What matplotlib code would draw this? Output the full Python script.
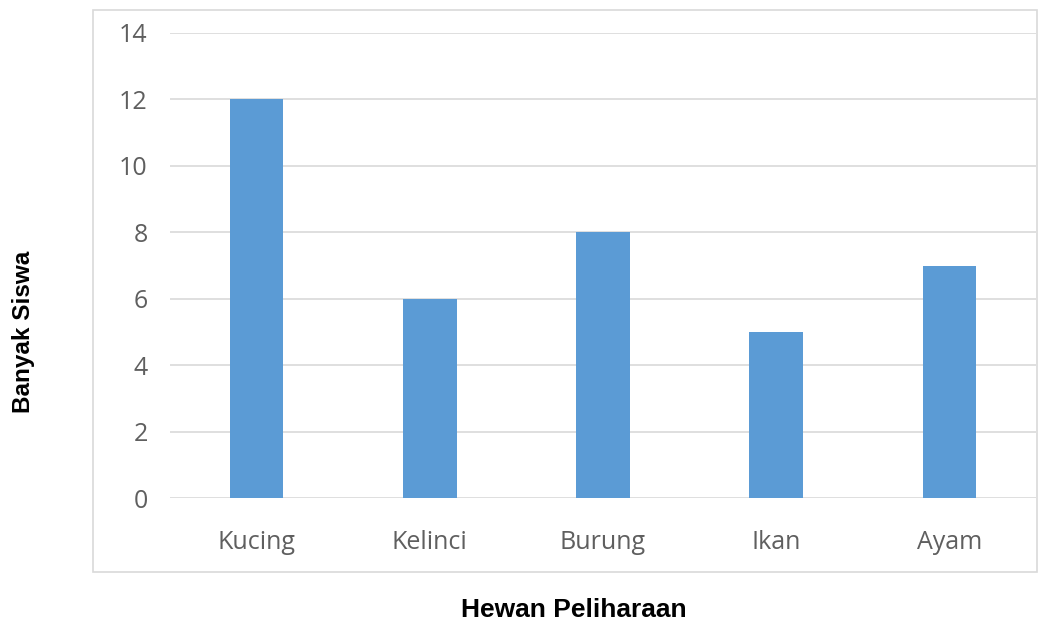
import matplotlib
matplotlib.use("Agg")
import matplotlib.pyplot as plt
from matplotlib.patches import Rectangle

categories = ["Kucing", "Kelinci", "Burung", "Ikan", "Ayam"]
values = [12, 6, 8, 5, 7]
yticks = [0, 2, 4, 6, 8, 10, 12, 14]

W, H = 1040, 621
fig = plt.figure(figsize=(W / 100, H / 100), dpi=100)

# chart border
fig.patches.append(Rectangle((93 / W, 1 - 572 / H), (1037 - 93) / W, (572 - 10) / H,
                             transform=fig.transFigure, fill=False,
                             edgecolor="#d9d9d9", linewidth=1.2))

ax = fig.add_axes([170 / W, 1 - 498 / H, (1036 - 170) / W, (498 - 33) / H])
x = list(range(len(categories)))
ax.bar(x, values, width=0.31, color="#5b9bd5", zorder=3)
ax.set_xlim(-0.5, 4.5)
ax.set_ylim(0, 14)
ax.set_yticks(yticks)
ax.set_xticks(x)
ax.set_xticklabels(categories)
ax.grid(axis="y", color="#d9d9d9", linewidth=1.2, zorder=0)
for s in ax.spines.values():
    s.set_visible(False)
ax.tick_params(axis="both", length=0, labelsize=18, labelcolor="#5f5f5f")
ax.tick_params(axis="y", pad=16)
ax.tick_params(axis="x", pad=23)
for lab in ax.get_xticklabels() + ax.get_yticklabels():
    lab.set_family("Open Sans")

fig.text(574 / W, 1 - 617 / H, "Hewan Peliharaan", ha="center", va="baseline",
         fontsize=19, fontweight="bold", family="Liberation Sans", color="black")
fig.text(24 / W, 1 - 332 / H, "Banyak Siswa", ha="center", va="center", rotation=90,
         fontsize=17.5, fontweight="bold",
         family="Liberation Sans", color="black")

fig.savefig("out.png", dpi=100)
